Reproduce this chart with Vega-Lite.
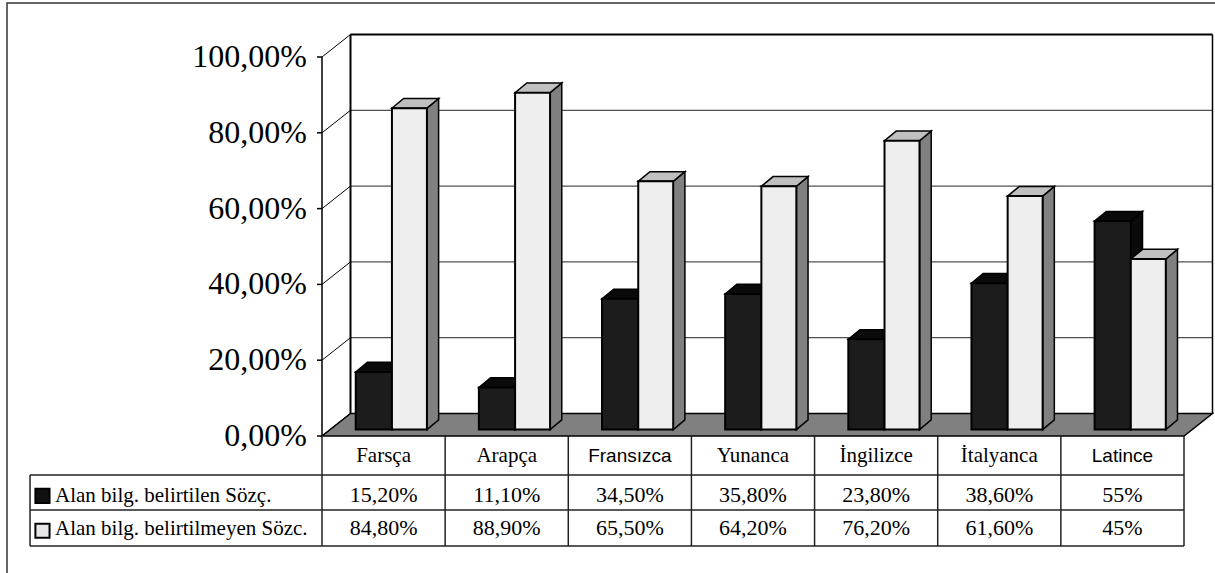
{
"$schema":"https://vega.github.io/schema/vega-lite/v6.json",
"width":862,"height":379,
"autosize":{"type":"none"},
"padding":{"left":322,"top":57,"right":31,"bottom":137},
"background":"white",
"config":{"view":{"stroke":null},"font":"Liberation Serif"},
"datasets":{
 "vals":[
  {"cat":"Farsça","series":"Alan bilg. belirtilen Sözç.","value":15.2},
  {"cat":"Arapça","series":"Alan bilg. belirtilen Sözç.","value":11.1},
  {"cat":"Fransızca","series":"Alan bilg. belirtilen Sözç.","value":34.5},
  {"cat":"Yunanca","series":"Alan bilg. belirtilen Sözç.","value":35.8},
  {"cat":"İngilizce","series":"Alan bilg. belirtilen Sözç.","value":23.8},
  {"cat":"İtalyanca","series":"Alan bilg. belirtilen Sözç.","value":38.6},
  {"cat":"Latince","series":"Alan bilg. belirtilen Sözç.","value":55},
  {"cat":"Farsça","series":"Alan bilg. belirtilmeyen Sözc.","value":84.8},
  {"cat":"Arapça","series":"Alan bilg. belirtilmeyen Sözc.","value":88.9},
  {"cat":"Fransızca","series":"Alan bilg. belirtilmeyen Sözc.","value":65.5},
  {"cat":"Yunanca","series":"Alan bilg. belirtilmeyen Sözc.","value":64.2},
  {"cat":"İngilizce","series":"Alan bilg. belirtilmeyen Sözc.","value":76.2},
  {"cat":"İtalyanca","series":"Alan bilg. belirtilmeyen Sözc.","value":61.6},
  {"cat":"Latince","series":"Alan bilg. belirtilmeyen Sözc.","value":45}
 ],
 "ticks":[{"v":0},{"v":20},{"v":40},{"v":60},{"v":80},{"v":100}]
},
"layer":[
 {"data":{"values":[{}]},
  "mark":{"type":"rect","filled":false,"stroke":"#333333","strokeWidth":1.5},
  "encoding":{
   "x":{"datum":-2.558,"scale":{"domain":[0,7],"nice":false,"zero":false},"axis":null},
   "x2":{"datum":8},
   "y":{"datum":114.25,"scale":{"domain":[0,100],"nice":false,"zero":false},"axis":null},
   "y2":{"datum":-50}}},
 {"data":{"name":"ticks"},
  "transform":[{"filter":"datum.v > 0 && datum.v < 100"},{"calculate":"datum.v + 5.94","as":"vb"}],
  "mark":{"type":"rule","color":"#505050","strokeWidth":1.2},
  "encoding":{
   "x":{"datum":0.2314,"scale":{"domain":[0,7],"nice":false,"zero":false},"axis":null},
   "x2":{"datum":7.2314},
   "y":{"field":"vb","type":"quantitative","scale":{"domain":[0,100],"nice":false,"zero":false},"axis":null}}},
 {"data":{"values":[{}]},
  "mark":{"type":"rule","color":"black","strokeWidth":2},
  "encoding":{
   "x":{"datum":0.2314,"scale":{"domain":[0,7],"nice":false,"zero":false},"axis":null},
   "x2":{"datum":7.2314},
   "y":{"datum":105.94,"scale":{"domain":[0,100],"nice":false,"zero":false},"axis":null}}},
 {"data":{"values":[{}]},
  "mark":{"type":"rule","color":"black","strokeWidth":2},
  "encoding":{
   "x":{"datum":0.2314,"scale":{"domain":[0,7],"nice":false,"zero":false},"axis":null},
   "y":{"datum":5.94,"scale":{"domain":[0,100],"nice":false,"zero":false},"axis":null},
   "y2":{"datum":105.94}}},
 {"data":{"values":[{}]},
  "mark":{"type":"rule","color":"black","strokeWidth":1.5},
  "encoding":{
   "x":{"datum":7.2314,"scale":{"domain":[0,7],"nice":false,"zero":false},"axis":null},
   "y":{"datum":5.94,"scale":{"domain":[0,100],"nice":false,"zero":false},"axis":null},
   "y2":{"datum":105.94}}},
 {"data":{"values":[{}]},
  "transform":[
   {"calculate":"[{px: 0, py: 0, py2: 0}, {px: 0.2314, py: 0, py2: 5.94}, {px: 7, py: 0, py2: 5.94}, {px: 7.2314, py: 5.94, py2: 5.94}]","as":"p"},
   {"flatten":["p"]},
   {"calculate":"datum.p.px","as":"px"},
   {"calculate":"datum.p.py","as":"py"},
   {"calculate":"datum.p.py2","as":"py2"}],
  "mark":{"type":"area","orient":"vertical","fill":"#808080","stroke":"black","strokeWidth":1.5,"strokeJoin":"miter"},
  "encoding":{
   "x":{"field":"px","type":"quantitative","scale":{"domain":[0,7],"nice":false,"zero":false},"axis":null},
   "y":{"field":"py","type":"quantitative","stack":null,"scale":{"domain":[0,100],"nice":false,"zero":false},"axis":null},
   "y2":{"field":"py2"}}},
 {"data":{"name":"ticks"},
  "transform":[{"calculate":"datum.v + 5.94","as":"vb"}],
  "mark":{"type":"rule","color":"black","strokeWidth":1},
  "encoding":{
   "x":{"datum":0,"scale":{"domain":[0,7],"nice":false,"zero":false},"axis":null},
   "x2":{"datum":0.2314},
   "y":{"field":"v","type":"quantitative","scale":{"domain":[0,100],"nice":false,"zero":false},"axis":null},
   "y2":{"field":"vb"}}},
 {"data":{"name":"ticks"},
  "mark":{"type":"rule","color":"black","strokeWidth":1.5},
  "encoding":{
   "x":{"datum":-0.0406,"scale":{"domain":[0,7],"nice":false,"zero":false},"axis":null},
   "x2":{"datum":0},
   "y":{"field":"v","type":"quantitative","scale":{"domain":[0,100],"nice":false,"zero":false},"axis":null}}},
 {"data":{"values":[{}]},
  "mark":{"type":"rule","color":"black","strokeWidth":1.5},
  "encoding":{
   "x":{"datum":0,"scale":{"domain":[0,7],"nice":false,"zero":false},"axis":null},
   "y":{"datum":0,"scale":{"domain":[0,100],"nice":false,"zero":false},"axis":null},
   "y2":{"datum":100}}},
 {"data":{"name":"ticks"},
  "transform":[{"calculate":"replace(format(datum.v, '.2f'), '.', ',') + '%'","as":"lab"}],
  "mark":{"type":"text","font":"Liberation Serif","fontSize":32,"color":"black","align":"right","baseline":"middle"},
  "encoding":{
   "x":{"datum":-0.1218,"scale":{"domain":[0,7],"nice":false,"zero":false},"axis":null},
   "y":{"field":"v","type":"quantitative","scale":{"domain":[0,100],"nice":false,"zero":false},"axis":null},
   "text":{"field":"lab"}}},
 {"data":{"name":"vals"},
  "transform":[
   {"calculate":"indexof(['Farsça','Arapça','Fransızca','Yunanca','İngilizce','İtalyanca','Latince'], datum.cat)","as":"i"},
   {"calculate":"datum.series === 'Alan bilg. belirtilen Sözç.' ? 0 : 1","as":"s"},
   {"calculate":"datum.i + (datum.s === 0 ? 0.274 : 0.568)","as":"x0"},
   {"calculate":"datum.i + (datum.s === 0 ? 0.568 : 0.852)","as":"x1"},
   {"calculate":"1.7 + datum.value","as":"t"},
   {"calculate":"datum.cat + '|' + datum.s","as":"key"},
   {"calculate":"[{px: datum.x1, py: 1.7, py2: datum.t}, {px: datum.x1 + 0.095, py: 4.25, py2: datum.t + 2.55}]","as":"p"},
   {"flatten":["p"]},
   {"calculate":"datum.p.px","as":"px"},
   {"calculate":"datum.p.py","as":"py"},
   {"calculate":"datum.p.py2","as":"py2"}],
  "mark":{"type":"area","orient":"vertical","stroke":"black","strokeWidth":1.5,"strokeJoin":"miter"},
  "encoding":{
   "x":{"field":"px","type":"quantitative","scale":{"domain":[0,7],"nice":false,"zero":false},"axis":null},
   "y":{"field":"py","type":"quantitative","stack":null,"scale":{"domain":[0,100],"nice":false,"zero":false},"axis":null},
   "y2":{"field":"py2"},
   "detail":{"field":"key"},
   "fill":{"condition":{"test":"datum.s === 0","value":"#0a0a0a"},"value":"#808080"}}},
 {"data":{"name":"vals"},
  "transform":[
   {"calculate":"indexof(['Farsça','Arapça','Fransızca','Yunanca','İngilizce','İtalyanca','Latince'], datum.cat)","as":"i"},
   {"calculate":"datum.series === 'Alan bilg. belirtilen Sözç.' ? 0 : 1","as":"s"},
   {"calculate":"datum.i + (datum.s === 0 ? 0.274 : 0.568)","as":"x0"},
   {"calculate":"datum.i + (datum.s === 0 ? 0.568 : 0.852)","as":"x1"},
   {"calculate":"1.7 + datum.value","as":"t"},
   {"calculate":"datum.cat + '|' + datum.s","as":"key"},
   {"calculate":"[{px: datum.x0, py: datum.t, py2: datum.t}, {px: datum.x0 + 0.095, py: datum.t, py2: datum.t + 2.55}, {px: datum.x1, py: datum.t, py2: datum.t + 2.55}, {px: datum.x1 + 0.095, py: datum.t + 2.55, py2: datum.t + 2.55}]","as":"p"},
   {"flatten":["p"]},
   {"calculate":"datum.p.px","as":"px"},
   {"calculate":"datum.p.py","as":"py"},
   {"calculate":"datum.p.py2","as":"py2"}],
  "mark":{"type":"area","orient":"vertical","stroke":"black","strokeWidth":1.5,"strokeJoin":"miter"},
  "encoding":{
   "x":{"field":"px","type":"quantitative","scale":{"domain":[0,7],"nice":false,"zero":false},"axis":null},
   "y":{"field":"py","type":"quantitative","stack":null,"scale":{"domain":[0,100],"nice":false,"zero":false},"axis":null},
   "y2":{"field":"py2"},
   "detail":{"field":"key"},
   "fill":{"condition":{"test":"datum.s === 0","value":"#0a0a0a"},"value":"#c0c0c0"}}},
 {"data":{"name":"vals"},
  "transform":[
   {"calculate":"indexof(['Farsça','Arapça','Fransızca','Yunanca','İngilizce','İtalyanca','Latince'], datum.cat)","as":"i"},
   {"calculate":"datum.series === 'Alan bilg. belirtilen Sözç.' ? 0 : 1","as":"s"},
   {"calculate":"datum.i + (datum.s === 0 ? 0.274 : 0.568)","as":"x0"},
   {"calculate":"datum.i + (datum.s === 0 ? 0.568 : 0.852)","as":"x1"},
   {"calculate":"1.7 + datum.value","as":"t"}],
  "mark":{"type":"rect","stroke":"black","strokeWidth":2},
  "encoding":{
   "x":{"field":"x0","type":"quantitative","scale":{"domain":[0,7],"nice":false,"zero":false},"axis":null},
   "x2":{"field":"x1"},
   "y":{"field":"t","type":"quantitative","scale":{"domain":[0,100],"nice":false,"zero":false},"axis":null},
   "y2":{"datum":1.7},
   "fill":{"condition":{"test":"datum.s === 0","value":"#1c1c1c"},"value":"#eeeeee"}}},
 {"data":{"values":[{}]},
  "mark":{"type":"rule","color":"#222222","strokeWidth":1.5},
  "encoding":{
   "x":{"datum":-2.371,"scale":{"domain":[0,7],"nice":false,"zero":false},"axis":null},
   "x2":{"datum":7},
   "y":{"datum":-10.29,"scale":{"domain":[0,100],"nice":false,"zero":false},"axis":null}}},
 {"data":{"values":[{}]},
  "mark":{"type":"rule","color":"#222222","strokeWidth":1.5},
  "encoding":{
   "x":{"datum":-2.371,"scale":{"domain":[0,7],"nice":false,"zero":false},"axis":null},
   "x2":{"datum":7},
   "y":{"datum":-19.53,"scale":{"domain":[0,100],"nice":false,"zero":false},"axis":null}}},
 {"data":{"values":[{}]},
  "mark":{"type":"rule","color":"#222222","strokeWidth":1.5},
  "encoding":{
   "x":{"datum":-2.371,"scale":{"domain":[0,7],"nice":false,"zero":false},"axis":null},
   "x2":{"datum":7},
   "y":{"datum":-29.02,"scale":{"domain":[0,100],"nice":false,"zero":false},"axis":null}}},
 {"data":{"values":[{}]},
  "mark":{"type":"rule","color":"#222222","strokeWidth":1.5},
  "encoding":{
   "x":{"datum":-2.371,"scale":{"domain":[0,7],"nice":false,"zero":false},"axis":null},
   "y":{"datum":-10.29,"scale":{"domain":[0,100],"nice":false,"zero":false},"axis":null},
   "y2":{"datum":-29.02}}},
 {"data":{"values":[{}]},
  "mark":{"type":"rule","color":"#222222","strokeWidth":1.5},
  "encoding":{
   "x":{"datum":0,"scale":{"domain":[0,7],"nice":false,"zero":false},"axis":null},
   "y":{"datum":0,"scale":{"domain":[0,100],"nice":false,"zero":false},"axis":null},
   "y2":{"datum":-29.02}}},
 {"data":{"name":"vals"},
  "transform":[
   {"filter":"datum.series === 'Alan bilg. belirtilen Sözç.'"},
   {"calculate":"indexof(['Farsça','Arapça','Fransızca','Yunanca','İngilizce','İtalyanca','Latince'], datum.cat) + 1","as":"xr"}],
  "mark":{"type":"rule","color":"#222222","strokeWidth":1.5},
  "encoding":{
   "x":{"field":"xr","type":"quantitative","scale":{"domain":[0,7],"nice":false,"zero":false},"axis":null},
   "y":{"datum":0,"scale":{"domain":[0,100],"nice":false,"zero":false},"axis":null},
   "y2":{"datum":-29.02}}},
 {"data":{"name":"vals"},
  "transform":[
   {"filter":"datum.series === 'Alan bilg. belirtilen Sözç.' && datum.cat !== 'Fransızca' && datum.cat !== 'Latince'"},
   {"calculate":"indexof(['Farsça','Arapça','Fransızca','Yunanca','İngilizce','İtalyanca','Latince'], datum.cat) + 0.5","as":"xc"}],
  "mark":{"type":"text","font":"Liberation Serif","fontSize":21,"color":"black","align":"center","baseline":"alphabetic"},
  "encoding":{
   "x":{"field":"xc","type":"quantitative","scale":{"domain":[0,7],"nice":false,"zero":false},"axis":null},
   "y":{"datum":-6.94,"scale":{"domain":[0,100],"nice":false,"zero":false},"axis":null},
   "text":{"field":"cat"}}},
 {"data":{"name":"vals"},
  "transform":[
   {"filter":"datum.series === 'Alan bilg. belirtilen Sözç.' && (datum.cat === 'Fransızca' || datum.cat === 'Latince')"},
   {"calculate":"indexof(['Farsça','Arapça','Fransızca','Yunanca','İngilizce','İtalyanca','Latince'], datum.cat) + 0.5","as":"xc"}],
  "mark":{"type":"text","font":"Liberation Sans","fontSize":19,"color":"black","align":"center","baseline":"alphabetic"},
  "encoding":{
   "x":{"field":"xc","type":"quantitative","scale":{"domain":[0,7],"nice":false,"zero":false},"axis":null},
   "y":{"datum":-6.94,"scale":{"domain":[0,100],"nice":false,"zero":false},"axis":null},
   "text":{"field":"cat"}}},
 {"data":{"name":"vals"},
  "transform":[
   {"calculate":"indexof(['Farsça','Arapça','Fransızca','Yunanca','İngilizce','İtalyanca','Latince'], datum.cat) + 0.5","as":"xc"},
   {"calculate":"datum.series === 'Alan bilg. belirtilen Sözç.' ? -17.33 : -26.12","as":"yc"},
   {"calculate":"datum.value % 1 === 0 ? datum.value + '%' : replace(format(datum.value, '.2f'), '.', ',') + '%'","as":"lab"}],
  "mark":{"type":"text","font":"Liberation Serif","fontSize":22,"color":"black","align":"center","baseline":"alphabetic"},
  "encoding":{
   "x":{"field":"xc","type":"quantitative","scale":{"domain":[0,7],"nice":false,"zero":false},"axis":null},
   "y":{"field":"yc","type":"quantitative","scale":{"domain":[0,100],"nice":false,"zero":false},"axis":null},
   "text":{"field":"lab"}}},
 {"data":{"name":"vals"},
  "transform":[
   {"filter":"datum.cat === 'Farsça'"},
   {"calculate":"datum.series === 'Alan bilg. belirtilen Sözç.' ? 0 : 1","as":"s"},
   {"calculate":"datum.s === 0 ? -15.8 : -25.0","as":"yc"}],
  "mark":{"type":"square","size":200,"filled":true,"stroke":"black","strokeWidth":2,"opacity":1},
  "encoding":{
   "x":{"datum":-2.27,"scale":{"domain":[0,7],"nice":false,"zero":false},"axis":null},
   "y":{"field":"yc","type":"quantitative","scale":{"domain":[0,100],"nice":false,"zero":false},"axis":null},
   "fill":{"condition":{"test":"datum.s === 0","value":"#111111"},"value":"#e6e6e6"}}},
 {"data":{"name":"vals"},
  "transform":[
   {"filter":"datum.cat === 'Farsça'"},
   {"calculate":"datum.series === 'Alan bilg. belirtilen Sözç.' ? -17.33 : -26.12","as":"yc"}],
  "mark":{"type":"text","font":"Liberation Serif","fontSize":21,"color":"black","align":"left","baseline":"alphabetic"},
  "encoding":{
   "x":{"datum":-2.168,"scale":{"domain":[0,7],"nice":false,"zero":false},"axis":null},
   "y":{"field":"yc","type":"quantitative","scale":{"domain":[0,100],"nice":false,"zero":false},"axis":null},
   "text":{"field":"series"}}}
]
}
